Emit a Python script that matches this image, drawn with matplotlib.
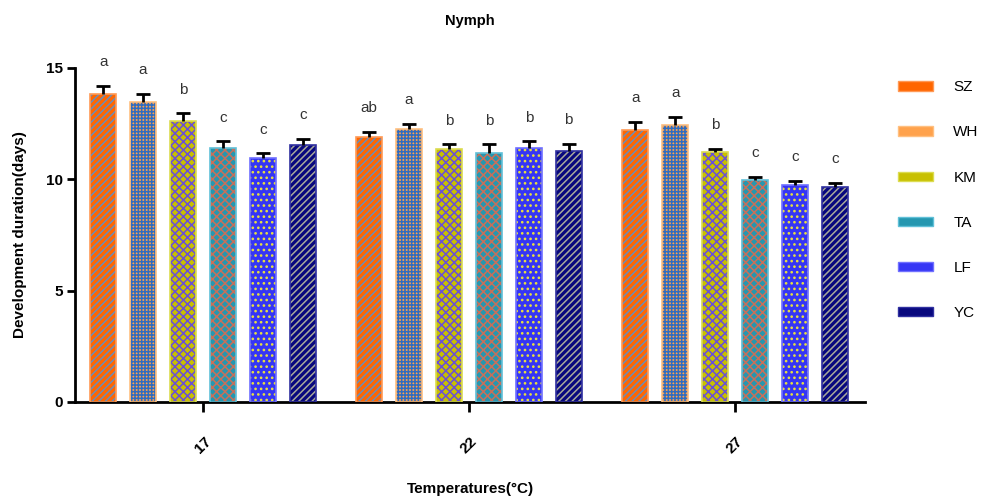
import matplotlib.pyplot as plt
import matplotlib.patches as mpatches
import numpy as np

plt.rcParams['font.family'] = ['Liberation Sans', 'DejaVu Sans']
plt.rcParams['hatch.linewidth'] = 1.1

temps = ['17', '22', '27']
populations = ['SZ', 'WH', 'KM', 'TA', 'LF', 'YC']

# mean development duration (days), one row per population, columns = temps
means = [
    [13.85, 11.89, 12.20],
    [13.45, 12.26, 12.46],
    [12.60, 11.34, 11.24],
    [11.40, 11.16, 9.97],
    [10.97, 11.41, 9.75],
    [11.52, 11.27, 9.67],
]
errors = [
    [0.35, 0.24, 0.38],
    [0.40, 0.23, 0.33],
    [0.36, 0.23, 0.14],
    [0.30, 0.41, 0.15],
    [0.19, 0.30, 0.17],
    [0.31, 0.32, 0.16],
]
letters = [
    ['a', 'ab', 'a'],
    ['a', 'a', 'a'],
    ['b', 'b', 'b'],
    ['c', 'b', 'c'],
    ['c', 'b', 'c'],
    ['c', 'b', 'c'],
]

fills = ['#ff6600', '#ffa24c', '#c8c000', '#2597b0', '#3535f5', '#08087e']
hatch_colors = ['#6b8db8', '#2f6cc0', '#6a4fd8', '#c8705a', '#e8e040', '#a8a89a']
hatches = ['/////', '+++++', 'xxxx', 'xxxx', '...', '/////']
borders = ['#ff9955', '#ffc080', '#dcdc50', '#60c0d8', '#7070ff', '#3030a0']

fig = plt.figure(figsize=(9.95, 4.98), dpi=100)
ax = fig.add_axes([0.0754, 0.193, 0.794, 0.6705])

x = np.arange(len(temps))
step = 0.15
width = 0.098

for i, pop in enumerate(populations):
    pos = x + (i - 2.5) * step
    ax.bar(pos, means[i], width, color=fills[i], edgecolor=hatch_colors[i],
           hatch=hatches[i], linewidth=0, zorder=2)
    ax.bar(pos, means[i], width, facecolor='none', edgecolor=borders[i],
           linewidth=1.2, zorder=3)
    eb = ax.errorbar(pos, means[i], yerr=[np.zeros(3), errors[i]], fmt='none',
                     ecolor='black', elinewidth=2, capsize=5, capthick=2, zorder=4)
    # only the upper cap is shown
    eb[1][0].set_visible(False)
    for j in range(len(temps)):
        ax.text(pos[j], means[i][j] + errors[i][j] + 0.75, letters[i][j],
                ha='center', va='bottom', fontsize=11, color='#333333')

ax.set_xlim(-0.481, 2.489)
ax.set_ylim(0, 15)
ax.set_yticks([0, 5, 10, 15])
ax.set_xticks(x)
ax.set_xticklabels(temps, rotation=45, ha='center', fontsize=11, fontweight='bold')
for lbl in ax.get_yticklabels():
    lbl.set_fontweight('bold')
    lbl.set_fontsize(11)

ax.spines['top'].set_visible(False)
ax.spines['right'].set_visible(False)
ax.spines['left'].set_linewidth(2)
ax.spines['bottom'].set_linewidth(2)
ax.tick_params(axis='y', width=2, length=6, pad=3)
ax.tick_params(axis='x', width=2, length=7, pad=16)

ax.set_title('Nymph', fontsize=10.5, fontweight='bold', pad=31)
ax.set_ylabel('Development duration(days)', fontsize=11, fontweight='bold', labelpad=13)
ax.set_xlabel('Temperatures(°C)', fontsize=11, fontweight='bold', labelpad=19)

handles = [mpatches.Patch(facecolor=fills[i], edgecolor=borders[i], linewidth=1)
           for i in range(len(populations))]
fig.legend(handles, populations, loc='upper left', bbox_to_anchor=(0.889, 0.866),
           frameon=False, fontsize=11, handlelength=2.3, handleheight=0.55,
           handletextpad=1.3, labelspacing=2.03)

fig.savefig('out.png', dpi=100)
